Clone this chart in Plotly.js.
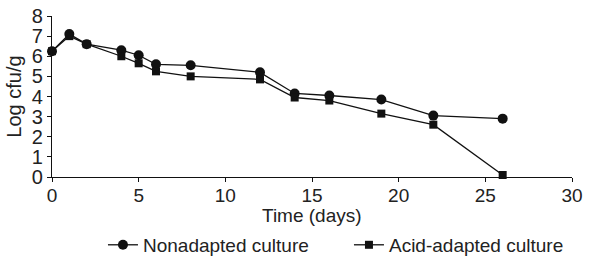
<!DOCTYPE html>
<html>
<head>
<script src="https://cdn.plot.ly/plotly-3.0.1.min.js"></script>
<style>html,body{margin:0;padding:0;background:#fff;}#chart{width:589px;height:264px;}</style>
</head>
<body>
<div id="chart"></div>
<script>
const days = [0, 1, 2, 4, 5, 6, 8, 12, 14, 16, 19, 22, 26];
const nonadapted = [6.25, 7.1, 6.6, 6.3, 6.05, 5.6, 5.55, 5.2, 4.15, 4.05, 3.85, 3.05, 2.9];
const acidAdapted = [6.25, 7.0, 6.6, 6.0, 5.65, 5.25, 5.0, 4.85, 3.95, 3.8, 3.15, 2.6, 0.1];
const xTicks = [0, 5, 10, 15, 20, 25, 30];
const yTicks = [0, 1, 2, 3, 4, 5, 6, 7, 8];
const xTitle = 'Time (days)';

const font = {family: 'Liberation Sans, Arial, sans-serif', color: '#222'};
const traces = [
  {x: days, y: nonadapted, name: 'Nonadapted culture', mode: 'lines+markers',
   line: {color: '#111', width: 1.3}, marker: {symbol: 'circle', size: 10, color: '#111'}, cliponaxis: false},
  {x: days, y: acidAdapted, name: 'Acid-adapted culture', mode: 'lines+markers',
   line: {color: '#111', width: 1.3}, marker: {symbol: 'square', size: 8, color: '#111'}, cliponaxis: false}
];
const layout = {
  width: 589, height: 264,
  margin: {l: 52, r: 17, t: 16, b: 87, autoexpand: false},
  paper_bgcolor: '#fff', plot_bgcolor: '#fff',
  font: Object.assign({size: 19}, font),
  showlegend: true,
  legend: {orientation: 'h', x: 0.098, xanchor: 'left', y: -0.422, yanchor: 'middle',
           entrywidth: 201, entrywidthmode: 'pixels',
           font: Object.assign({size: 19}, font), itemwidth: 30, tracegroupgap: 0},
  annotations: [{text: xTitle, xref: 'paper', yref: 'paper', x: 0.5, y: -0.242, xanchor: 'center', yanchor: 'middle',
                 showarrow: false, borderpad: 0, font: Object.assign({size: 19}, font)}],
  xaxis: {range: [0, 30], tickvals: xTicks, ticktext: xTicks.map(String), showgrid: false, zeroline: false,
          showline: true, linecolor: '#111', linewidth: 1.2, ticks: 'outside', ticklen: 4, tickcolor: '#111',
          tickfont: Object.assign({size: 19}, font), automargin: false, ticklabelstandoff: -3},
  yaxis: {range: [0, 8], tickvals: yTicks, ticktext: yTicks.map(String), showgrid: false, zeroline: false,
          showline: true, linecolor: '#111', linewidth: 1.2, ticks: 'outside', ticklen: 4, tickcolor: '#111',
          tickfont: Object.assign({size: 20}, font), automargin: false,
          title: {text: 'Log cfu/g', font: Object.assign({size: 20}, font), standoff: 4}}
};
Plotly.newPlot('chart', traces, layout, {staticPlot: true, displayModeBar: false});
</script>
</body>
</html>
